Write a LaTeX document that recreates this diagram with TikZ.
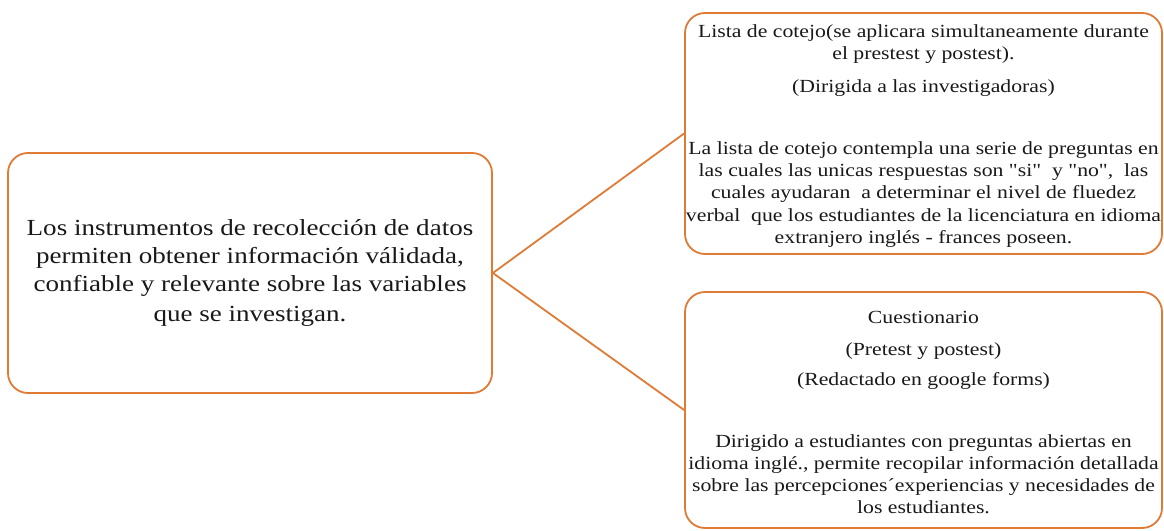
\documentclass[tikz,border=0pt]{standalone}
\usepackage{fontspec}
\setmainfont[FakeStretch=1.175,Ligatures=TeXOff]{Liberation Serif}
\definecolor{boxorange}{HTML}{E07B36}
\begin{document}
\begin{tikzpicture}[x=1pt,y=-1pt,
  box/.style={draw=boxorange, line width=1.8pt, rounded corners=20pt, fill=white,
    align=center, inner sep=0pt, text=black!90},
  link/.style={draw=boxorange, line width=1.8pt}]
\useasboundingbox (0,0) rectangle (1164,530);
\node[box, minimum width=484pt, minimum height=240pt, font=\fontsize{23}{28}\selectfont] (main) at (250,273)
  {Los instrumentos de recolección de datos\\
   permiten obtener información válidada,\\
   confiable y relevante sobre las variables\\[2pt]
   que se investigan.};
\node[box, minimum width=477pt, minimum height=241pt, font=\fontsize{18.5}{22.3}\selectfont] (lista) at (923.5,133.5)
  {\rule{0pt}{18pt}Lista de cotejo(se aplicara simultaneamente durante\\
   el prestest y postest).\\[10pt]
   (Dirigida a las investigadoras)\\[40pt]
   La lista de cotejo contempla una serie de preguntas en\\
   las cuales las unicas respuestas son "si"\ \ y "no",\ \ las\\
   cuales ayudaran\ \ a determinar el nivel de fluedez\\
   verbal\ \ que los estudiantes de la licenciatura en idioma\\
   extranjero inglés - frances poseen.};
\node[box, minimum width=477pt, minimum height=236pt, font=\fontsize{18.5}{22}\selectfont] (cuest) at (923.5,410)
  {\rule{0pt}{18pt}Cuestionario\\[10pt]
   (Pretest y postest)\\[8pt]
   (Redactado en google forms)\\[40pt]
   Dirigido a estudiantes con preguntas abiertas en\\
   idioma inglé., permite recopilar información detallada\\
   sobre las percepciones´experiencias y necesidades de\\
   los estudiantes.};
\draw[link] (main.east) -- (lista.west);
\draw[link] (main.east) -- (cuest.west);
\end{tikzpicture}
\end{document}
